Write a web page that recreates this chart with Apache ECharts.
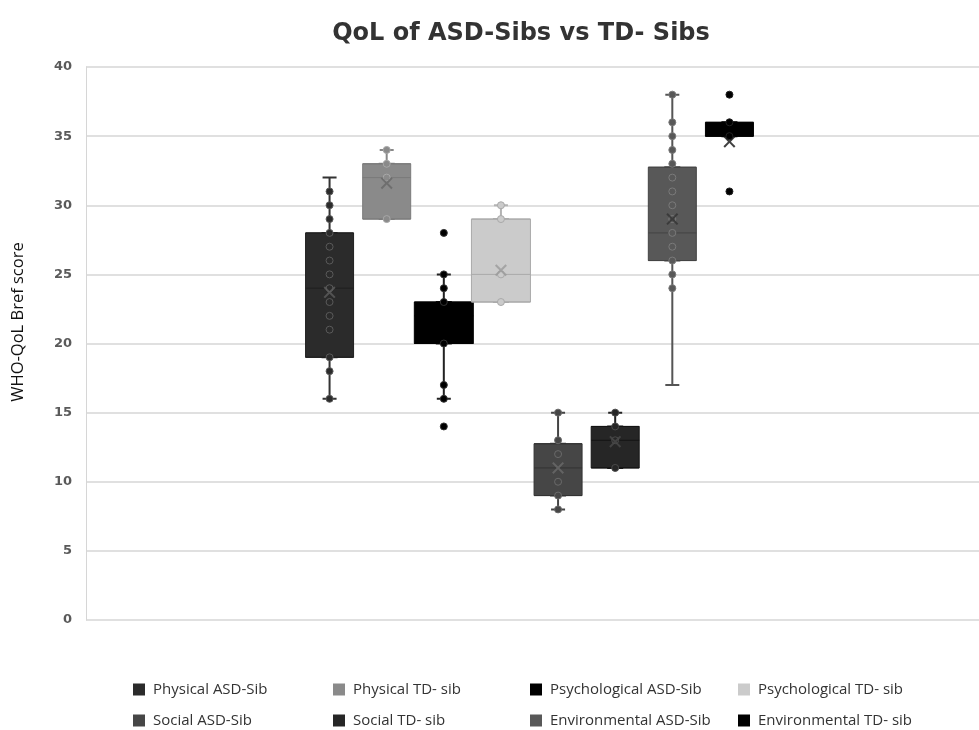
<!DOCTYPE html>
<html>
<head>
<meta charset="utf-8">
<script src="https://cdn.jsdelivr.net/npm/echarts@6/dist/echarts.min.js"></script>
<style>
html,body{margin:0;padding:0;background:#fff;}
#chart{width:979px;height:730px;}
</style>
</head>
<body>
<div id="chart"></div>
<script>
// ---- data ----
const categories = ['Physical ASD-Sib','Physical TD- sib','Psychological ASD-Sib','Psychological TD- sib','Social ASD-Sib','Social TD- sib','Environmental ASD-Sib','Environmental TD- sib'];
// [min, q1, median, q3, max]
const physicalASD = [16, 19, 24, 28, 32];
const physicalTD = [29, 29, 32, 33, 34];
const psychASD = [16, 20, 22, 23, 25];
const psychTD = [23, 23, 25, 29, 30];
const socialASD = [8, 9, 11, 12.75, 15];
const socialTD = [11, 11, 13, 14, 15];
const envASD = [17, 26, 28, 32.75, 38];
const envTD = [35, 35, 35, 36, 36];
const boxStats = [physicalASD, physicalTD, psychASD, psychTD, socialASD, socialTD, envASD, envTD];
const means = [23.7, 31.6, 21.5, 25.3, 11.0, 12.9, 29.0, 34.6];
const points = [
  [31, 30, 29, 28, 27, 26, 25, 24, 23, 22, 21, 19, 18, 16],
  [34, 33, 32, 29],
  [28, 25, 24, 23, 20, 17, 16, 14],
  [30, 29, 25, 23],
  [15, 13, 12, 10, 9, 8],
  [15, 14, 13, 11],
  [38, 36, 35, 34, 33, 32, 31, 30, 29, 28, 27, 26, 25, 24],
  [38, 36, 35, 31]
];
const yTicks = {min: 0, max: 40, interval: 5};

// ---- styles ----
const fillColors = ['#2b2b2b','#8a8a8a','#000000','#cbcbcb','#464646','#262626','#585858','#000000'];
const edgeColors = ['#1f1f1f','#7a7a7a','#000000','#a9a9a9','#333333','#141414','#444444','#000000'];
const whiskerColors = ['#333333','#888888','#222222','#b3b3b3','#444444','#222222','#555555','#000000'];
const pointEdge = ['#5a5a5a','#a8a8a8','#333333','#a9a9a9','#6a6a6a','#4a4a4a','#7a7a7a','#222222'];
const meanColors = ['#5e5e5e','#666666','#000000','#9a9a9a','#6a6a6a','#4a4a4a','#333333','#111111'];
const wideSet = [0, 1, 4, 5, 6, 7];
const widerSet = [2, 3];

const X_PATH = 'path://M0,1.2L1.2,0L5,3.8L8.8,0L10,1.2L6.2,5L10,8.8L8.8,10L5,6.2L1.2,10L0,8.8L3.8,5Z';
const EMPTY = ['-','-','-','-','-'];

function boxOnly(set) {
  return boxStats.map((s, i) => set.includes(i)
    ? {value: [s[1], s[1], s[2], s[3], s[3]], itemStyle: {color: fillColors[i], borderColor: edgeColors[i]}}
    : {value: EMPTY});
}

const series = [];
series.push({
  type: 'boxplot', xAxisIndex: 3, yAxisIndex: 1, boxWidth: [14, 14], silent: true,
  itemStyle: {borderWidth: 2},
  data: boxStats.map((s, i) => ({value: s.slice(), itemStyle: {color: whiskerColors[i], borderColor: whiskerColors[i]}}))
});
series.push({
  type: 'boxplot', xAxisIndex: 1, yAxisIndex: 1, boxWidth: [48, 48], silent: true,
  itemStyle: {borderWidth: 1}, data: boxOnly(wideSet)
});
series.push({
  type: 'boxplot', xAxisIndex: 2, yAxisIndex: 1, boxWidth: [59, 59], silent: true,
  itemStyle: {borderWidth: 1}, data: boxOnly(widerSet)
});
categories.forEach((name, i) => {
  series.push({
    name: name, type: 'scatter', xAxisIndex: 1, yAxisIndex: 1, symbol: 'circle', symbolSize: 7,
    silent: true,
    itemStyle: {color: fillColors[i], borderColor: pointEdge[i], borderWidth: 1, opacity: 1},
    data: points[i].map(v => [i, v])
  });
});
series.push({
  name: 'mean', type: 'scatter', xAxisIndex: 1, yAxisIndex: 1, symbol: X_PATH, symbolSize: 12, silent: true,
  data: means.map((m, i) => ({value: [i, m], itemStyle: {color: meanColors[i]}}))
});

// legend: 4 columns x 2 rows (row 1: items 0..3, row 2: items 4..7)
const legendCols = [133, 333, 530, 738];
const legendRows = [682, 713];
const legends = categories.map((name, i) => ({
  left: legendCols[i % 4], top: legendRows[Math.floor(i / 4)],
  itemWidth: 12, itemHeight: 12, icon: 'rect', selectedMode: false, padding: 0,
  itemStyle: {borderWidth: 0},
  textStyle: {fontFamily: 'Open Sans', fontSize: 15, color: '#333', padding: [0, 0, 0, 3]},
  data: [name]
}));

const chart = echarts.init(document.getElementById('chart'), null, {renderer: 'canvas'});
chart.setOption({
  animation: false,
  backgroundColor: '#fff',
  grid: [
    {left: 86, right: 0, top: 67, bottom: 110},
    {left: 301, right: 221, top: 67, bottom: 110}
  ],
  xAxis: [
    {gridIndex: 0, type: 'category', data: [''], show: false},
    {gridIndex: 1, type: 'category', data: categories, show: false},
    {gridIndex: 1, type: 'category', data: categories, show: false},
    {gridIndex: 1, type: 'category', data: categories, show: false}
  ],
  yAxis: [
    {gridIndex: 0, type: 'value', min: yTicks.min, max: yTicks.max, interval: yTicks.interval,
     axisLine: {show: true, lineStyle: {color: '#d6d6d6', width: 1}},
     axisTick: {show: false},
     axisLabel: {margin: 14, fontFamily: 'DejaVu Sans', fontSize: 13, fontWeight: 'bold', color: '#5a5a5a'},
     splitLine: {show: true, lineStyle: {color: '#d6d6d6', width: 1.5}}},
    {gridIndex: 1, type: 'value', min: yTicks.min, max: yTicks.max, interval: yTicks.interval, show: false,
     splitLine: {show: false}}
  ],
  legend: legends,
  graphic: [
    {type: 'text', x: 521, y: 34, style: {text: 'QoL of ASD-Sibs vs TD- Sibs', fontFamily: 'DejaVu Sans', fontWeight: 'bold', fontSize: 24, fill: '#333', textAlign: 'center', textVerticalAlign: 'middle'}},
    {type: 'text', x: 18, y: 322, rotation: Math.PI / 2, style: {text: 'WHO-QoL Bref score', fontFamily: 'Open Sans', fontSize: 16.5, fill: '#111', textAlign: 'center', textVerticalAlign: 'middle'}}
  ],
  series: series
});
</script>
</body>
</html>
